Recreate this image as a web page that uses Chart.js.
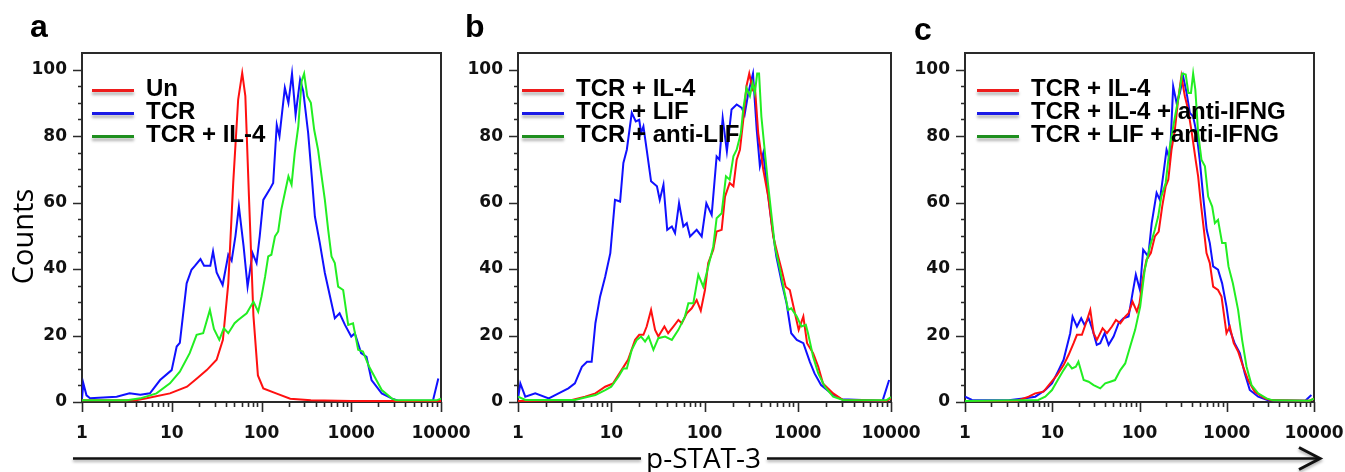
<!DOCTYPE html>
<html>
<head>
<meta charset="utf-8">
<script src="https://cdn.jsdelivr.net/npm/chart.js@4/dist/chart.umd.min.js"></script>
<style>
  html, body { margin: 0; padding: 0; background: #fff; }
  #page { position: relative; width: 1345px; height: 472px; overflow: hidden; }
  canvas { position: absolute; top: 0; }
  .letter { position: absolute; font: bold 32px "Liberation Sans", Arial, sans-serif; line-height: 32px; color: #000; }
  .legend-line { position: absolute; width: 42px; height: 3px; box-shadow: 0 3px 3px rgba(0,0,0,0.3); }
  .legend-text { position: absolute; font: bold 24px "Liberation Sans", Arial, sans-serif; line-height: 24px; color: #000; white-space: nowrap; }
  #counts { position: absolute; width: 200px; height: 29px; left: -79px; top: 222px; transform: rotate(-90deg);
            text-align: center; font: 29px "Open Sans", sans-serif; line-height: 29px; color: #000; }
  #xtitle { position: absolute; left: 646px; top: 443px; font: 28px "Open Sans", sans-serif; line-height: 28px; color: #000; }
  svg { position: absolute; left: 0; top: 0; }
</style>
</head>
<body>
<div id="page">
  <canvas id="chartA"></canvas>
  <canvas id="chartB"></canvas>
  <canvas id="chartC"></canvas>
  <svg width="1345" height="472">
    <g stroke="#111" stroke-width="2.5" fill="none" style="filter: drop-shadow(0 2px 1.5px rgba(0,0,0,0.35))">
      <line x1="73" y1="458.5" x2="641" y2="458.5"/>
      <line x1="767" y1="458.5" x2="1318" y2="458.5"/>
      <polyline points="1299,447.5 1320,458.5 1299,469.5" stroke-width="3"/>
    </g>
  </svg>
  <div id="counts">Counts</div>
  <div id="xtitle">p-STAT-3</div>
</div>
<script>
// axis ticks
const xTickLabels = ['1', '10', '100', '1000', '10000'];
const yTicks = [0, 20, 40, 60, 80, 100];
const panelLetters = ['a', 'b', 'c'];

// legend labels per panel
const legendA = ['Un', 'TCR', 'TCR + IL-4'];
const legendB = ['TCR + IL-4', 'TCR + LIF', 'TCR + anti-LIF'];
const legendC = ['TCR + IL-4', 'TCR + IL-4 + anti-IFNG', 'TCR + LIF + anti-IFNG'];

// histograms: [decades above 1 (log10 of p-STAT-3), counts % of max]
const aUn = [[0,0.5],[0.6,0.5],[0.72,1.1],[0.98,2.6],[1.17,4.6],[1.28,7.1],[1.39,9.6],[1.5,12.7],[1.57,18.7],[1.63,35.7],
  [1.685,66],[1.74,91],[1.785,99],[1.82,92],[1.86,62],[1.91,26],[1.96,8],[2.02,4.1],[2.17,2.5],[2.32,1],[2.55,0.5],[3,0.3],[4,0.3]];
const aTcr = [[0,1],[0.015,5.6],[0.05,2],[0.09,1.1],[0.386,1.6],[0.53,2.6],[0.65,2.2],[0.757,2.6],[0.87,6.6],[0.999,9.6],
  [1.055,16.7],[1.09,17.8],[1.166,35.7],[1.22,39.8],[1.26,41],[1.32,43],[1.36,41],[1.43,41],[1.46,45.3],[1.5,39],[1.567,35.2],
  [1.63,44.3],[1.667,42.5],[1.71,50],[1.748,58.8],[1.80,47],[1.845,34.7],[1.9,44.8],[1.945,41.8],[1.98,49.8],[2.02,60.8],
  [2.09,63.9],[2.13,65.9],[2.17,83.4],[2.2,79.9],[2.26,94.5],[2.3,90],[2.34,98.8],[2.38,86.4],[2.43,97],[2.465,93.5],
  [2.52,80.9],[2.56,67.9],[2.595,55.8],[2.65,47.8],[2.706,38.8],[2.76,32.2],[2.817,25.2],[2.87,26.7],[2.93,23.2],[3.0,19.7],
  [3.04,20.7],[3.11,14.7],[3.17,13.6],[3.226,6.6],[3.34,2.6],[3.45,1.1],[3.52,0.4],[3.91,0.4],[3.97,7.1]];
const aTcrIl4 = [[0,0.5],[0.5,0.5],[0.65,1.1],[0.83,2.6],[0.98,5.6],[1.09,9.1],[1.2,14.7],[1.277,20.2],[1.35,20.7],[1.425,27.7],
  [1.47,22],[1.53,18.7],[1.58,22.2],[1.63,20.7],[1.7,23.7],[1.74,24.7],[1.835,26.7],[1.91,30.2],[1.963,27.2],[2.0,31.7],
  [2.04,37.7],[2.075,43.8],[2.11,44.3],[2.15,49.8],[2.186,51.3],[2.22,57.8],[2.26,62.9],[2.3,67.9],[2.335,65.4],[2.37,74.9],
  [2.41,82.9],[2.447,96.5],[2.475,98.8],[2.51,92],[2.55,90],[2.587,81.9],[2.63,75.9],[2.67,67.9],[2.706,60.8],[2.743,51.8],
  [2.78,43.8],[2.817,41.8],[2.854,34.7],[2.91,33.7],[2.966,23.2],[3.02,23.7],[3.077,15.7],[3.13,15.2],[3.2,10.6],[3.26,7.6],
  [3.34,3.6],[3.45,1.1],[3.5,0.5],[3.95,0.5],[4,1]];

const bTcrIl4 = [[0,0.3],[0.58,0.6],[0.72,1.6],[0.83,2.6],[0.935,4.6],[1.02,5.6],[1.11,9.6],[1.18,12.7],[1.256,18.7],[1.3,20.2],
  [1.345,20.2],[1.38,22.7],[1.427,27.7],[1.47,21.7],[1.505,19.7],[1.57,22.7],[1.61,20.7],[1.666,22.7],[1.72,24.7],[1.756,23.7],
  [1.81,26.7],[1.863,28.2],[1.916,30.7],[1.96,27.5],[2.005,33.7],[2.04,41.8],[2.094,45.8],[2.13,51.3],[2.184,51.8],[2.22,61.8],
  [2.27,65.9],[2.31,64.9],[2.345,72.9],[2.38,75.9],[2.42,85.9],[2.45,95],[2.48,98.8],[2.516,94],[2.54,95],[2.576,80.9],
  [2.63,69.9],[2.683,61.8],[2.737,49.8],[2.79,43.8],[2.827,39.8],[2.87,34.7],[2.915,33.7],[2.97,26.7],[3.01,21.7],[3.06,25.7],
  [3.1,17.7],[3.165,14.7],[3.22,10.6],[3.27,5.6],[3.38,2.6],[3.486,0.6],[3.95,0.4],[4,1]];
const bTcrLif = [[0,1],[0.025,5.6],[0.078,1.6],[0.185,2.6],[0.33,1.1],[0.435,2.6],[0.54,4.1],[0.61,5.6],[0.685,10.6],[0.74,12.1],
  [0.79,12.1],[0.83,23.7],[0.88,31.7],[0.935,37.7],[0.99,44.8],[1.04,60.8],[1.095,60.3],[1.13,71.9],[1.167,75.9],[1.22,87],
  [1.263,84.4],[1.3,84.9],[1.32,80.9],[1.345,82.9],[1.38,75.9],[1.427,66.4],[1.49,64.9],[1.52,60.8],[1.56,65.4],[1.6,51.8],
  [1.65,52.8],[1.684,50.8],[1.727,59.8],[1.773,52.8],[1.81,53.8],[1.845,49.8],[1.916,51.8],[1.97,49.8],[2.02,59.8],[2.077,56.3],
  [2.13,73.9],[2.16,72.9],[2.195,85.4],[2.24,75.4],[2.29,88],[2.345,89.5],[2.4,88.5],[2.43,86.4],[2.47,93],[2.52,98.8],
  [2.56,81.9],[2.594,70.9],[2.63,74.9],[2.666,65.9],[2.72,53.8],[2.77,43.8],[2.83,35.7],[2.88,29.7],[2.93,20.7],[2.99,18.7],
  [3.06,17.7],[3.13,12.1],[3.18,8.6],[3.25,5.1],[3.36,2.6],[3.47,0.8],[3.91,0.4],[3.98,6.6]];
const bTcrAntiLif = [[0,1.6],[0.08,0.6],[0.61,0.6],[0.685,1.1],[0.83,2.1],[0.935,3.6],[1.0,4.6],[1.077,7.6],[1.13,10.1],[1.167,10.1],
  [1.22,15.7],[1.274,18.7],[1.32,19.7],[1.363,18.2],[1.4,19.7],[1.452,15.7],[1.505,19.2],[1.577,19.7],[1.65,18.7],[1.72,21.7],
  [1.79,25.7],[1.827,29.7],[1.88,29.7],[1.934,38.3],[1.987,34.7],[2.04,40.8],[2.094,46.8],[2.13,55.3],[2.184,56.8],[2.23,67.9],
  [2.27,66.9],[2.31,73.9],[2.345,75.9],[2.39,80.9],[2.415,88],[2.45,94.5],[2.487,92],[2.516,96],[2.54,93],[2.565,98.8],
  [2.585,98.8],[2.61,85.9],[2.645,75.9],[2.68,65.9],[2.72,55.8],[2.755,46.8],[2.81,39.8],[2.86,32.7],[2.897,27.7],[2.93,28.2],
  [2.99,25.7],[3.04,22.7],[3.087,23.2],[3.11,20.7],[3.165,13.6],[3.22,8.6],[3.29,4.6],[3.38,1.6],[3.486,0.6],[3.95,0.5],[4,1.5]];

const cTcrIl4 = [[0,0.3],[0.6,0.4],[0.73,1.6],[0.805,2.6],[0.9,3.1],[0.977,5.6],[1.054,8.1],[1.13,11.1],[1.188,14.2],[1.245,17.7],
  [1.283,20.2],[1.34,20.2],[1.386,23.7],[1.436,27.7],[1.474,20.7],[1.512,18.7],[1.577,22.2],[1.627,20.7],[1.684,22.7],[1.73,24.7],
  [1.78,23.7],[1.836,25.7],[1.875,26.7],[1.92,30.2],[1.97,27.2],[2.0,29.7],[2.042,37.7],[2.08,42.8],[2.13,44.8],[2.176,49.8],
  [2.22,51.3],[2.26,58.8],[2.3,64.9],[2.33,66.9],[2.367,75.9],[2.405,81.9],[2.443,91],[2.48,98],[2.52,92],[2.557,88],[2.6,80.9],
  [2.643,72.9],[2.672,67.9],[2.703,59.8],[2.738,51.8],[2.768,44.8],[2.806,41.8],[2.844,34.7],[2.9,33.7],[2.94,31.7],[2.997,20.7],
  [3.035,22.7],[3.08,17.7],[3.13,15.2],[3.188,10.6],[3.245,6.6],[3.32,3.1],[3.436,1.1],[3.51,0.5],[3.95,0.4],[4,1]];
const cTcrIl4AntiIfng = [[0,1.6],[0.08,0.6],[0.5,0.5],[0.69,1.1],[0.805,1.6],[0.92,3.6],[0.997,5.6],[1.073,9.6],[1.13,12.7],[1.168,16.7],
  [1.206,20.7],[1.233,25.7],[1.283,22.7],[1.332,25.2],[1.37,23.2],[1.417,25.2],[1.463,21.7],[1.51,17.2],[1.55,17.7],[1.6,20.7],
  [1.646,17.2],[1.703,19.7],[1.76,23.7],[1.818,25.2],[1.875,25.7],[1.92,32.7],[1.958,38.3],[2.005,33.7],[2.042,45.8],[2.1,43.8],
  [2.14,53.8],[2.196,62.9],[2.234,60.8],[2.27,67.9],[2.31,75.9],[2.348,72.9],[2.386,95],[2.425,90],[2.463,93],[2.5,98],
  [2.54,93],[2.577,87],[2.615,85.9],[2.654,80.9],[2.69,72.9],[2.73,61.8],[2.77,51.8],[2.806,47.8],[2.844,40.8],[2.9,39.8],
  [2.947,35.7],[2.997,28.7],[3.035,21.7],[3.09,17.7],[3.15,14.7],[3.207,8.6],[3.264,3.6],[3.36,1.6],[3.474,0.5],[3.9,0.4],[3.97,2.1]];
const cTcrLifAntiIfng = [[0,0.3],[0.84,0.6],[0.92,1.6],[0.997,3.6],[1.073,7.1],[1.13,9.6],[1.18,11.6],[1.226,10.1],[1.27,10.6],[1.3,12.1],
  [1.36,6.6],[1.417,6.1],[1.474,5.1],[1.55,4.1],[1.607,5.6],[1.665,6.1],[1.72,6.6],[1.78,9.6],[1.836,11.6],[1.893,16.7],[1.95,21.7],
  [2.008,28.7],[2.06,39.8],[2.12,46.8],[2.176,51.8],[2.214,55.8],[2.25,61.8],[2.3,65.9],[2.348,76.9],[2.4,84.9],[2.443,91],
  [2.49,98.8],[2.53,98.5],[2.56,93],[2.59,93],[2.615,98.8],[2.64,94],[2.672,80.9],[2.71,72.9],[2.75,70.9],[2.787,61.8],[2.833,58.8],
  [2.864,53.8],[2.9,54.8],[2.947,47.8],[2.986,47.8],[3.02,40.8],[3.07,35.7],[3.13,27.7],[3.176,18.7],[3.227,10.6],[3.284,5.1],
  [3.36,2.6],[3.456,1.1],[3.53,0.5],[3.95,0.4],[4,1]];

const lineColors = ['#ff1010', '#1010ff', '#22ee22'];
const legendColors = ['#ee1c1c', '#1a1ae6', '#1f8f1f'];

// layout of the three panels (plot box edges in page pixels)
const panels = [
  { canvas: 'chartA', boxLeft: 82, boxRight: 441, legend: legendA, series: [aUn, aTcr, aTcrIl4], legendX: 92, letter: [30, 10] },
  { canvas: 'chartB', boxLeft: 518, boxRight: 891, legend: legendB, series: [bTcrIl4, bTcrLif, bTcrAntiLif], legendX: 522, letter: [465, 10] },
  { canvas: 'chartC', boxLeft: 965, boxRight: 1314, legend: legendC, series: [cTcrIl4, cTcrIl4AntiIfng, cTcrLifAntiIfng], legendX: 977, letter: [914, 13] }
];
const BOX_TOP = 53, BOX_BOTTOM = 402, PAGE_H = 472, Y_AXIS_W = 82, RIGHT_PAD = 30;

// frame around plot area + major/minor tick marks
const frameTicks = {
  id: 'frameTicks',
  beforeDatasetsDraw(chart) {
    const { ctx, chartArea: a, scales: { x, y } } = chart;
    ctx.save();
    ctx.strokeStyle = '#2a2a2a';
    ctx.lineWidth = 2;
    ctx.strokeRect(a.left, a.top, a.right - a.left, a.bottom - a.top);
    ctx.lineWidth = 1.6;
    ctx.beginPath();
    for (let d = 1; d <= 10000; d *= 10) {
      for (let m = 1; m <= 9; m++) {
        const v = d * m;
        if (v > 10000) break;
        const px = Math.round(x.getPixelForValue(v)) + 0.5;
        ctx.moveTo(px, a.bottom);
        ctx.lineTo(px, a.bottom + (m === 1 ? 10 : 5));
      }
    }
    for (let v = 0; v <= 100; v += 5) {
      const py = Math.round(y.getPixelForValue(v)) + 0.5;
      ctx.moveTo(a.left, py);
      ctx.lineTo(a.left - (v % 20 === 0 ? 9 : 4), py);
    }
    ctx.stroke();
    ctx.restore();
  }
};

const page = document.getElementById('page');

panels.forEach((p, idx) => {
  const cv = document.getElementById(p.canvas);
  const left = p.boxLeft - Y_AXIS_W;
  cv.width = p.boxRight - left + RIGHT_PAD;
  cv.height = PAGE_H;
  cv.style.left = left + 'px';

  new Chart(cv, {
    type: 'scatter',
    data: {
      datasets: p.series.map((s, i) => ({
        label: p.legend[i],
        data: s.map(([dec, cnt]) => ({ x: Math.pow(10, dec), y: cnt })),
        showLine: true,
        borderColor: lineColors[i],
        backgroundColor: lineColors[i],
        borderWidth: 2,
        pointRadius: 0,
        tension: 0,
        order: [1, 2, 0][i]
      }))
    },
    options: {
      responsive: false,
      animation: false,
      layout: { padding: { left: 0, right: RIGHT_PAD, top: BOX_TOP, bottom: 0 } },
      plugins: { legend: { display: false }, tooltip: { enabled: false } },
      scales: {
        x: {
          type: 'logarithmic',
          min: 1,
          max: 10000,
          grid: { display: false, drawTicks: false },
          border: { display: false },
          afterBuildTicks: s => { s.ticks = xTickLabels.map(t => ({ value: Number(t) })); },
          afterFit: s => { s.height = PAGE_H - BOX_BOTTOM; s.paddingLeft = 0; s.paddingRight = 0; },
          ticks: {
            autoSkip: false, maxRotation: 0, padding: 21, color: '#111',
            font: { family: 'DejaVu Sans', size: 17, weight: 'bold' },
            callback: (v, i) => xTickLabels[i]
          }
        },
        y: {
          min: 0,
          max: 105,
          grid: { display: false, drawTicks: false },
          border: { display: false },
          afterBuildTicks: s => { s.ticks = yTicks.map(v => ({ value: v })); },
          afterFit: s => { s.width = Y_AXIS_W; s.paddingTop = 0; s.paddingBottom = 0; },
          ticks: {
            padding: 15, color: '#111',
            font: { family: 'DejaVu Sans', size: 17, weight: 'bold' },
            callback: v => String(v)
          }
        }
      }
    },
    plugins: [frameTicks]
  });

  // panel letter
  const letter = document.createElement('div');
  letter.className = 'letter';
  letter.textContent = panelLetters[idx];
  letter.style.left = p.letter[0] + 'px';
  letter.style.top = p.letter[1] + 'px';
  page.appendChild(letter);

  // legend inside plot box
  p.legend.forEach((label, i) => {
    const lineY = 90 + 23 * i;
    const ln = document.createElement('div');
    ln.className = 'legend-line';
    ln.style.background = legendColors[i];
    ln.style.left = p.legendX + 'px';
    ln.style.top = (lineY - 1) + 'px';
    page.appendChild(ln);
    const tx = document.createElement('div');
    tx.className = 'legend-text';
    tx.textContent = label;
    tx.style.left = (p.legendX + 54) + 'px';
    tx.style.top = (lineY - 14) + 'px';
    page.appendChild(tx);
  });
});
</script>
</body>
</html>
